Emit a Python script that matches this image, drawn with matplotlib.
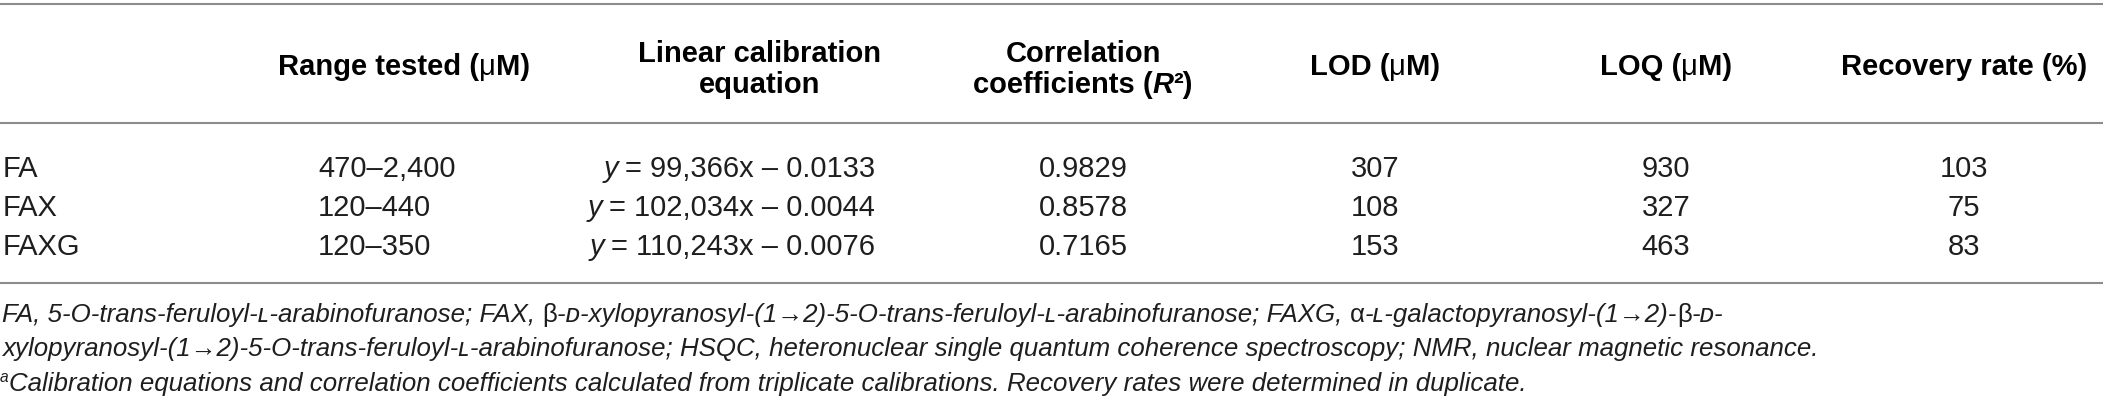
import re
import matplotlib
matplotlib.use("Agg")
import matplotlib.pyplot as plt

plt.rcParams['font.family'] = ['Liberation Sans', 'DejaVu Sans']

# ---------------------------------------------------------------------------
# Table data
# ---------------------------------------------------------------------------
compounds = ["FA", "FAX", "FAXG"]
range_tested = ["470–2,400", "120–440", "120–350"]
slopes = ["99,366", "102,034", "110,243"]
intercepts = ["0.0133", "0.0044", "0.0076"]
r_squared = ["0.9829", "0.8578", "0.7165"]
lod = ["307", "108", "153"]
loq = ["930", "327", "463"]
recovery = ["103", "75", "83"]

footnotes = [
    "FA, 5-O-trans-feruloyl-ʟ-arabinofuranose; FAX, β-ᴅ-xylopyranosyl-(1→2)-5-O-trans-feruloyl-ʟ-arabinofuranose; "
    "FAXG, α-ʟ-galactopyranosyl-(1→2)-β-ᴅ-",
    "xylopyranosyl-(1→2)-5-O-trans-feruloyl-ʟ-arabinofuranose; HSQC, heteronuclear single quantum coherence "
    "spectroscopy; NMR, nuclear magnetic resonance.",
    "Calibration equations and correlation coefficients calculated from triplicate calibrations. "
    "Recovery rates were determined in duplicate.",
]

# ---------------------------------------------------------------------------
# Layout (pixel coordinates, y grows downward)
# ---------------------------------------------------------------------------
W, H = 2103, 410
fig = plt.figure(figsize=(W / 100, H / 100), dpi=100)
ax = fig.add_axes([0, 0, 1, 1])
ax.set_xlim(0, W)
ax.set_ylim(H, 0)
ax.axis('off')
renderer = fig.canvas.get_renderer()

rule_color = '#8c8c8c'
txt_color = '#1e1e1e'
fs = 21
fs_note = 18.6

col_x = {'range': 404, 'eq': 875, 'r2': 1083, 'lod': 1375, 'loq': 1666, 'rec': 1964}
range_left = 318
row_base = [177, 216, 255]

for y in (4.5, 124.3, 284.3):
    ax.axhline(y, color=rule_color, lw=1.5)

BOLD = dict(fontsize=fs, fontweight='bold', color='black')
REG = dict(fontsize=fs, color=txt_color)


def draw_runs(x, y, parts, ha='center'):
    """Draw a sequence of differently styled text runs on one baseline."""
    items = []
    total = 0.0
    for p in parts:
        if isinstance(p, (int, float)):
            items.append((None, p))
            total += p
            continue
        s, kw = p
        t = ax.text(0, y, s, ha='left', va='baseline', **kw)
        w = t.get_window_extent(renderer).width
        items.append((t, w))
        total += w
    if ha == 'center':
        cur = x - total / 2
    elif ha == 'right':
        cur = x - total
    else:
        cur = x
    for t, w in items:
        if t is not None:
            t.set_x(cur)
        cur += w


# headers
MU = dict(fontsize=fs, color='black')
draw_runs(col_x['range'], 75, [("Range tested (", BOLD), ("μ", MU), ("M)", BOLD)])
ax.text(760, 62, "Linear calibration", ha='center', va='baseline', **BOLD)
ax.text(760, 93, "equation", ha='center', va='baseline', **BOLD)
ax.text(col_x['r2'], 62, "Correlation", ha='center', va='baseline', **BOLD)
draw_runs(col_x['r2'], 93, [("coefficients (", BOLD),
                            ("R", dict(fontsize=fs, fontweight='bold', style='italic', color='black')),
                            ("²)", BOLD)])
draw_runs(col_x['lod'], 75, [("LOD (", BOLD), ("μ", MU), ("M)", BOLD)])
draw_runs(col_x['loq'], 75, [("LOQ (", BOLD), ("μ", MU), ("M)", BOLD)])
ax.text(col_x['rec'], 75, "Recovery rate (%)", ha='center', va='baseline', **BOLD)

# body rows
for i, yb in enumerate(row_base):
    ax.text(3, yb, compounds[i], ha='left', va='baseline', **REG)
    ax.text(range_left, yb, range_tested[i], ha='left', va='baseline', **REG)
    draw_runs(col_x['eq'], yb, [("y", dict(fontsize=fs, style='italic', color=txt_color)), 7,
                                (f"= {slopes[i]}x – {intercepts[i]}", REG)], ha='right')
    ax.text(col_x['r2'], yb, r_squared[i], ha='center', va='baseline', **REG)
    ax.text(col_x['lod'], yb, lod[i], ha='center', va='baseline', **REG)
    ax.text(col_x['loq'], yb, loq[i], ha='center', va='baseline', **REG)
    ax.text(col_x['rec'], yb, recovery[i], ha='center', va='baseline', **REG)

# footnotes: italic, with the Greek letters kept upright
NOTE_IT = dict(fontsize=fs_note, style='italic', color=txt_color)
NOTE_UP = dict(fontsize=fs_note, color=txt_color)


def note_line(x, y, s):
    parts = []
    for chunk in re.split(r'([αβ])', s):
        if not chunk:
            continue
        parts.append((chunk, NOTE_UP if chunk in 'αβ' else NOTE_IT))
    draw_runs(x, y, parts, ha='left')


note_line(2, 322, footnotes[0])
note_line(2, 356, footnotes[1])
ax.text(0, 382, "a", fontsize=fs_note * 0.6, style='italic', color=txt_color, va='baseline', ha='left')
note_line(9, 391, footnotes[2])

fig.savefig('out.png', dpi=100, facecolor='white')
